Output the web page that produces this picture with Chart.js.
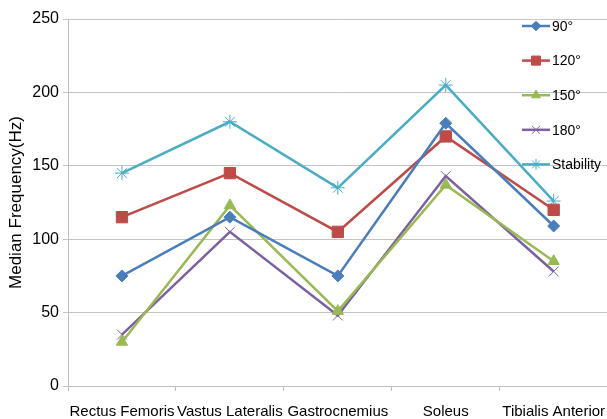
<!DOCTYPE html>
<html>
<head>
<meta charset="utf-8">
<script src="https://cdn.jsdelivr.net/npm/chart.js@4/dist/chart.umd.min.js"></script>
<style>
  html, body { margin: 0; padding: 0; background: #fff; overflow: hidden; width: 607px; height: 419px; }
  canvas { display: block; }
</style>
</head>
<body>
<canvas id="c" width="618" height="419"></canvas>
<script>
// Muscles on the horizontal axis
const muscles = ['Rectus Femoris', 'Vastus Lateralis', 'Gastrocnemius', 'Soleus', 'Tibialis Anterior'];

// Median frequency (Hz) per knee angle condition
const angle90   = [75, 115, 75, 179, 109];
const angle120  = [115, 145, 105, 170, 120];
const angle150  = [30, 123, 51, 137, 85];
const angle180  = [35, 105, 48, 143, 78];
const stability = [145, 180, 135, 205, 126];

const seriesLabels = ['90°', '120°', '150°', '180°', 'Stability'];
const yTicks = [0, 50, 100, 150, 200, 250];

const FONT = '"Liberation Sans", Arial, sans-serif';

function series(label, data, color, pointStyle, radius) {
  return {
    label, data,
    borderColor: color,
    backgroundColor: color,
    borderWidth: 2.5,
    pointStyle,
    pointRadius: radius,
    pointHoverRadius: radius,
    pointBorderColor: color,
    pointBackgroundColor: color,
    pointBorderWidth: 1,
    tension: 0
  };
}

// Legend stacked down the right side, drawn over the plot area
const sideLegend = {
  id: 'sideLegend',
  afterDraw(chart) {
    const ctx = chart.ctx;
    const x0 = 522, x1 = 550, y0 = 26, step = 34.6;
    ctx.save();
    chart.data.datasets.forEach((ds, i) => {
      const y = y0 + i * step;
      ctx.strokeStyle = ds.borderColor;
      ctx.lineWidth = 2.5;
      ctx.beginPath();
      ctx.moveTo(x0, y);
      ctx.lineTo(x1, y);
      ctx.stroke();
      ctx.fillStyle = ds.pointBackgroundColor;
      ctx.strokeStyle = ds.pointBorderColor;
      ctx.lineWidth = ds.pointBorderWidth;
      Chart.helpers.drawPoint(ctx, {
        pointStyle: ds.pointStyle, radius: ds.pointRadius * 0.8, rotation: 0, borderWidth: ds.pointBorderWidth
      }, (x0 + x1) / 2, y);
      ctx.fillStyle = '#000';
      ctx.font = '14px ' + FONT;
      ctx.textBaseline = 'middle';
      ctx.textAlign = 'left';
      ctx.fillText(ds.label, x1 + 2, y + 1);
    });
    ctx.restore();
  }
};

new Chart(document.getElementById('c'), {
  type: 'line',
  data: {
    labels: muscles,
    datasets: [
      series(seriesLabels[0], angle90,   '#4a7ebb', 'rectRot', 6),
      series(seriesLabels[1], angle120,  '#be4b48', 'rect', 8),
      series(seriesLabels[2], angle150,  '#98b954', 'triangle', 6.5),
      series(seriesLabels[3], angle180,  '#7d60a0', 'crossRot', 7),
      series(seriesLabels[4], stability, '#4bacc6', 'star', 7)
    ]
  },
  options: {
    responsive: false,
    animation: false,
    devicePixelRatio: 1,
    layout: { padding: { top: 19, right: 8.5, left: 0, bottom: 0 } },
    plugins: {
      legend: { display: false },
      tooltip: { enabled: false }
    },
    scales: {
      x: {
        type: 'category',
        offset: true,
        grid: {
          display: true,
          drawOnChartArea: false,
          drawTicks: true,
          tickLength: 5,
          offset: true,
          color: '#bdbdbd'
        },
        border: { display: true, color: '#bdbdbd', width: 1 },
        ticks: {
          color: '#000',
          font: { family: FONT, size: 15 },
          padding: 12,
          maxRotation: 0,
          autoSkip: false
        },
        afterFit(scale) { scale.height = 33; }
      },
      y: {
        min: 0,
        max: 250,
        afterBuildTicks(scale) { scale.ticks = yTicks.map(v => ({ value: v })); },
        grid: {
          color: '#c4c4c4',
          lineWidth: 1,
          drawTicks: true,
          tickLength: 5
        },
        border: { display: true, color: '#bdbdbd', width: 1 },
        ticks: {
          color: '#000',
          font: { family: FONT, size: 16 },
          padding: 4
        },
        title: {
          display: true,
          text: 'Median Frequency(Hz)',
          color: '#000',
          font: { family: FONT, size: 17 },
          padding: { top: 6, bottom: 0 }
        },
        afterFit(scale) { scale.width = 68; }
      }
    }
  },
  plugins: [sideLegend]
});
</script>
</body>
</html>
